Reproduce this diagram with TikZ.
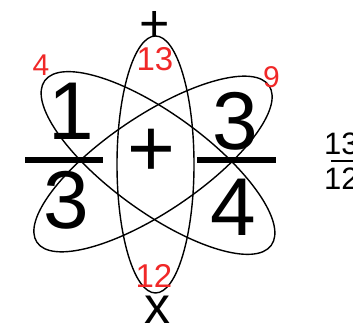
\documentclass[tikz,border=0pt]{standalone}
\usepackage{fontspec}
\setmainfont{Liberation Sans}
\definecolor{numred}{RGB}{240,40,40}
\tikzset{
  orbit/.style={draw=black, line width=1.4pt},
  big/.style={inner sep=0pt, font=\fontsize{82}{82}\selectfont},
  mid/.style={inner sep=0pt, font=\fontsize{52}{52}\selectfont},
  rednum/.style={inner sep=0pt, text=numred, font=\fontsize{33}{33}\selectfont},
  small/.style={inner sep=0pt, font=\fontsize{31}{31}\selectfont},
  bar/.style={line width=5.5pt},
}
\begin{document}
\begin{tikzpicture}[x=1pt,y=1pt]
\useasboundingbox (0,0) rectangle (353,328);
\clip (0,0) rectangle (353,328);
% orbits
\draw[orbit, rotate around={-36:(158,165)}] (158,165) ellipse [x radius=140, y radius=49];
\draw[orbit, rotate around={34:(153,164)}] (153,164) ellipse [x radius=140, y radius=48];
\draw[orbit] (155.5,163.5) ellipse [x radius=38.5, y radius=128.5];
% fraction bars
\coordinate (lb1) at (25,168);
\coordinate (lb2) at (103,168);
\coordinate (rb1) at (197,168);
\coordinate (rb2) at (276,168);
\draw[bar] (lb1) -- (lb2);
\draw[bar] (rb1) -- (rb2);
% big numbers
\node[big] (n1) at (71,217) {1};
\node[big] (d1) at (66.5,128) {3};
\node[big] (n2) at (235,206.5) {3};
\node[big] (d2) at (233,120.5) {4};
\node[big] (plus) at (151,175) {+};
% operators on top and bottom
\node[mid] (tplus) at (155,301) {+};
\node[mid] (times) at (157.5,18) {x};
% red numbers
\node[rednum] (r13) at (155,269) {13};
\node[rednum] (r12) at (154,52.5) {12};
\node[rednum, font=\fontsize{30}{30}\selectfont] (r4) at (41,262.5) {4};
\node[rednum, font=\fontsize{30}{30}\selectfont] (r9) at (271.5,251) {9};
% result fraction (clipped at the right edge)
\node[small, anchor=west] (rn) at (324,184) {13};
\node[small, anchor=west] (rd) at (324,149) {12};
\coordinate (rbar1) at (331,167);
\coordinate (rbar2) at (362,167);
\draw[line width=1.6pt] (rbar1) -- (rbar2);
\end{tikzpicture}
\end{document}
